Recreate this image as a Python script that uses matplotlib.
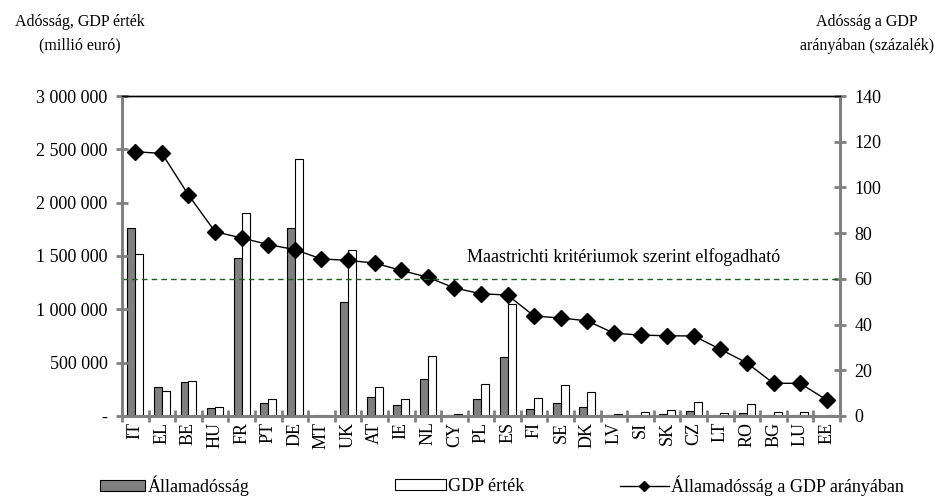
import numpy as np
import matplotlib
matplotlib.use('Agg')
import matplotlib.pyplot as plt
from matplotlib.ticker import FuncFormatter

plt.rcParams['font.family'] = ['Liberation Serif', 'DejaVu Serif']

# Adatok
orszagok = ['IT', 'EL', 'BE', 'HU', 'FR', 'PT', 'DE', 'MT', 'UK', 'AT', 'IE', 'NL', 'CY', 'PL',
            'ES', 'FI', 'SE', 'DK', 'LV', 'SI', 'SK', 'CZ', 'LT', 'RO', 'BG', 'LU', 'EE']
allamadossag = [1760000, 269000, 322000, 72000, 1484000, 119000, 1760000, 5000, 1066000, 175000,
                100000, 344000, 10000, 163000, 553000, 69000, 119000, 88000, 7000, 8000,
                15000, 44000, 10000, 24000, 5000, 5000, 1000]
gdp_ertek = [1518000, 231000, 325000, 88000, 1900000, 162000, 2407000, 6000, 1560000, 269000,
             156000, 560000, 15000, 303000, 1047000, 166000, 288000, 222000, 20000, 35000,
             53000, 131000, 27000, 110000, 33000, 36000, 13000]
adossag_gdp = [115.6, 114.9, 96.7, 80.6, 77.9, 75.0, 72.8, 68.7, 68.1, 66.9, 63.7, 60.7, 56.0,
               53.5, 52.9, 43.7, 42.9, 41.6, 36.2, 35.4, 35.1, 35.0, 29.2, 23.2, 14.3, 14.3, 7.0]
maastricht = 60

x = np.arange(len(orszagok))
w = 0.3

fig = plt.figure(figsize=(9.35, 4.98), dpi=100)
ax = fig.add_axes([0.1305, 0.1647, 0.7679, 0.6425])

b1 = ax.bar(x - w/2, allamadossag, w, color='#808080', edgecolor='black', linewidth=0.8,
            label='Államadósság')
b2 = ax.bar(x + w/2, gdp_ertek, w, color='white', edgecolor='black', linewidth=0.8,
            label='GDP érték')
ax.set_ylim(0, 3000000)
ax.set_xlim(-0.5, len(orszagok) - 0.5)
ax.set_yticks(np.arange(0, 3000001, 500000))
ax.yaxis.set_major_formatter(FuncFormatter(
    lambda v, p: '-' if v == 0 else f'{int(v):,}'.replace(',', ' ')))
ax.set_xticks(x)
ax.set_xticklabels(orszagok, rotation=90, fontsize=13)
ax.set_xticks(np.arange(-0.5, len(orszagok)), minor=True)
ax.tick_params(axis='x', which='major', length=0, pad=4)
ax.tick_params(axis='x', which='minor', length=9, width=2, color='#808080', direction='inout')
ax.tick_params(axis='y', length=9, width=2, color='#808080', direction='inout', labelsize=13, pad=6)

ax2 = ax.twinx()
l1, = ax2.plot(x, adossag_gdp, color='black', linewidth=1, marker='D', markersize=8,
               label='Államadósság a GDP arányában')
ax2.axhline(maastricht, color='#1e5e1e', linestyle='--', linewidth=1, dashes=(4, 3))
ax2.text(12.47, 65.5, 'Maastrichti kritériumok szerint elfogadható', fontsize=13,
         ha='left', va='bottom')
ax2.set_ylim(0, 140)
ax2.set_yticks(np.arange(0, 141, 20))
ax2.tick_params(axis='y', length=9, width=2, color='#808080', direction='inout', labelsize=13, pad=6)

for a in (ax, ax2):
    a.spines['left'].set_color('#808080')
    a.spines['left'].set_linewidth(2)
    a.spines['right'].set_color('#808080')
    a.spines['right'].set_linewidth(2)
    a.spines['bottom'].set_color('#808080')
    a.spines['bottom'].set_linewidth(2)
    a.spines['top'].set_color('black')
    a.spines['top'].set_linewidth(1)

fig.text(0.085, 0.972, 'Adósság, GDP érték\n(millió euró)', ha='center', va='top',
         fontsize=11.5, linespacing=1.65)
fig.text(0.927, 0.972, 'Adósság a GDP\narányában (százalék)', ha='center', va='top',
         fontsize=11.5, linespacing=1.65)

# Jelmagyarázat: három külön elem
for h, xpos, hl in [(b1, 100/935, 2.5), (b2, 395/935, 2.8), (l1, 620/935, 2.7)]:
    fig.legend(handles=[h], loc='center left', bbox_to_anchor=(xpos, 1 - 486/498),
               frameon=False, fontsize=13, handlelength=hl, handleheight=0.55,
               handletextpad=0.15, borderpad=0, borderaxespad=0, markerscale=0.65)

plt.savefig('out.png', dpi=100)
